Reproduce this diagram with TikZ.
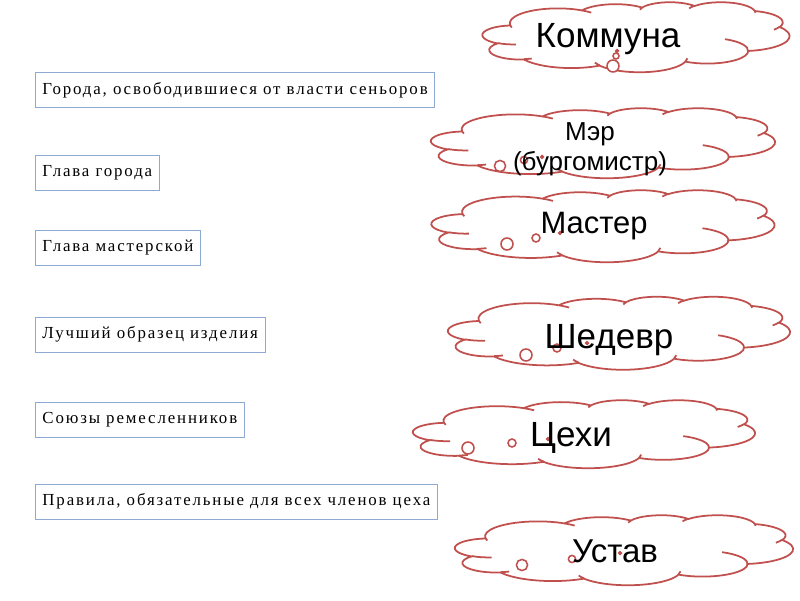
\documentclass[tikz,border=0pt]{standalone}
\usepackage{fontspec}
\setmainfont{Liberation Serif}[LetterSpace=11]
\newfontfamily\cloudfont{Liberation Sans}
\definecolor{cloudred}{HTML}{C0504D}
\definecolor{boxblue}{HTML}{8EAAD4}

\tikzset{
    % cloud outline on a 43.2 x 43.2 grid, centred on the pic origin
    pics/thought/.style args={#1x#2}{code={
        \begin{scope}[x=#1cm/43.2, y=-#2cm/43.2, shift={(-21.6,-21.6)}]
        \draw[cloudred, line width=1.25pt, fill=white] (3.9,14.37)
            arc[start angle=-187.745, delta angle=128.115, x radius=6.753, y radius=9.19]
            arc[start angle=-152.02, delta angle=106.58, x radius=5.333, y radius=7.267]
            arc[start angle=-153.49, delta angle=116.18, x radius=4.365, y radius=5.945]
            arc[start angle=-139.71, delta angle=129.50, x radius=4.857, y radius=6.595]
            arc[start angle=-74.77, delta angle=97.98, x radius=5.333, y radius=7.273]
            arc[start angle=-37.52, delta angle=119.38, x radius=6.775, y radius=9.22]
            arc[start angle=0.46, delta angle=121.51, x radius=5.785, y radius=7.867]
            arc[start angle=16.84, delta angle=129.40, x radius=6.752, y radius=9.215]
            arc[start angle=59.02, delta angle=91.19, x radius=7.72, y radius=10.543]
            arc[start angle=83.30, delta angle=139.82, x radius=4.36, y radius=5.918]
            arc[start angle=120.36, delta angle=143.75, x radius=4.345, y radius=5.945]
            -- cycle;
        \draw[cloudred, line width=1.25pt]
            (4.693,26.177) arc[start angle=85.545, delta angle=34.82, x radius=4.345, y radius=5.945]
            (6.928,34.899) arc[start angle=68.25, delta angle=15.05, x radius=4.36, y radius=5.918]
            (16.478,39.09) arc[start angle=146.24, delta angle=12.23, x radius=6.752, y radius=9.215]
            (28.827,34.751) arc[start angle=4.74, delta angle=12.10, x radius=6.752, y radius=9.215]
            (34.129,22.954) arc[start angle=-64.00, delta angle=68.98, x radius=5.785, y radius=7.867]
            (41.798,15.354) arc[start angle=23.21, delta angle=16.33, x radius=5.333, y radius=7.273]
            (38.324,5.426) arc[start angle=-10.21, delta angle=11.03, x radius=4.857, y radius=6.595]
            (29.078,3.952) arc[start angle=-156.30, delta angle=16.59, x radius=4.857, y radius=6.595]
            (22.141,4.72) arc[start angle=-167.73, delta angle=14.24, x radius=4.365, y radius=5.945]
            (14.0,5.192) arc[start angle=-59.63, delta angle=13.90, x radius=6.753, y radius=9.19]
            (4.127,15.789) arc[start angle=163.20, delta angle=9.06, x radius=6.753, y radius=9.19];
        \end{scope}
    }}
}

\begin{document}
\begin{tikzpicture}[
    term/.style={draw=boxblue, line width=0.6pt, anchor=west, minimum height=0.875cm, inner xsep=5pt, font=\fontsize{12}{14}\selectfont},
    bubble/.style={draw=cloudred, line width=1.1pt, fill=white},
    word/.style={font=\cloudfont\fontsize{#1}{21pt}\selectfont, align=center}
]
    \useasboundingbox (0,0) rectangle (20,15);

    % left column: definitions
    \node[term] (kommuny) at (0.875,12.75)   {Города, освободившиеся от власти сеньоров};
    \node[term] (glava)   at (0.875,10.6875) {Глава города};
    \node[term] (glavam)  at (0.875,8.8125)  {Глава мастерской};
    \node[term] (obrazec) at (0.875,6.6375)  {Лучший образец изделия};
    \node[term] (soyuzy)  at (0.875,4.5)     {Союзы ремесленников};
    \node[term] (pravila) at (0.875,2.4625)  {Правила, обязательные для всех членов цеха};

    % right column: clouds
    \pic (c-komm)    at (15.9,14.075)   {thought=7.675x1.75};
    \pic (c-mer)     at (15.075,11.425) {thought=8.6x1.75};
    \pic (c-master)  at (15.075,9.35)   {thought=8.575x1.8};
    \pic (c-shedevr) at (15.475,6.675)  {thought=8.55x1.825};
    \pic (c-cehi)    at (14.6,4.15)     {thought=8.55x1.7};
    \pic (c-ustav)   at (15.6,1.25)     {thought=8.45x1.75};

    % thought bubbles
    \foreach \x/\y/\r in {15.325/13.35/.15, 15.4/13.6/.075, 15.425/13.725/.035,
                          12.5/10.85/.14, 13.1/11.0/.09, 13.55/11.075/.035,
                          12.675/8.9/.15, 13.4/9.05/.1, 14.0/9.175/.035,
                          13.15/6.125/.15, 13.925/6.3/.1, 14.675/6.425/.035,
                          11.7/3.8/.15, 12.8/3.925/.1, 13.7/4.025/.035,
                          13.05/0.875/.14, 14.3/1.025/.09, 15.5/1.175/.035}
        \draw[bubble] (\x,\y) circle (\r);

    \node[word=24.9pt] (komm)    at (15.2,14.025)  {Коммуна};
    \node[word=18.5pt] (mer)     at (14.75,11.275) {Мэр\\(бургомистр)};
    \node[word=22pt]   (master)  at (14.85,9.35)   {Мастер};
    \node[word=24.9pt] (shedevr) at (15.225,6.5)   {Шедевр};
    \node[word=24.9pt] (cehi)    at (14.275,4.05)  {Цехи};
    \node[word=23.5pt] (ustav)   at (15.375,1.225) {Устав};
\end{tikzpicture}
\end{document}
